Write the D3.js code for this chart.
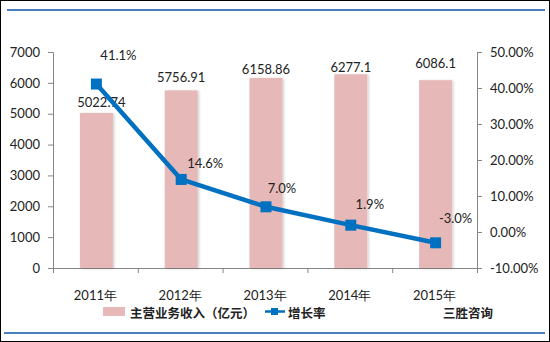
<!DOCTYPE html>
<html>
<head>
<meta charset="utf-8">
<script src="https://cdn.jsdelivr.net/npm/d3@7"></script>
<style>
  html, body { margin: 0; padding: 0; background: #fff; }
  svg { display: block; }
  text { font-family: Lato, "Noto Sans", sans-serif; fill: #222; }
  .cjk { font-family: "Noto Sans CJK SC", sans-serif; font-weight: 600; }
</style>
</head>
<body>
<svg id="chart" width="550" height="342"></svg>
<script>
// Revenue and growth data
const years = ["2011年", "2012年", "2013年", "2014年", "2015年"];
const revenue = [5022.74, 5756.91, 6158.86, 6277.1, 6086.1];
const revenueLabels = ["5022.74", "5756.91", "6158.86", "6277.1", "6086.1"];
const growth = [41.1, 14.6, 7.0, 1.9, -3.0];
const growthLabels = ["41.1%", "14.6%", "7.0%", "1.9%", "-3.0%"];
const leftTicks = [0, 1000, 2000, 3000, 4000, 5000, 6000, 7000];
const rightTicks = [-10, 0, 10, 20, 30, 40, 50];
const seriesNames = ["主营业务收入（亿元）", "增长率"];
const sourceText = "三胜咨询";

const svg = d3.select("#chart");
const W = 550, H = 342;
const plot = { left: 53, right: 477, top: 52, bottom: 268 };

// Frame and decorative rules
svg.append("rect").attr("x", 0.5).attr("y", 0.5).attr("width", W - 1).attr("height", H - 1)
  .attr("fill", "#fff").attr("stroke", "#000").attr("stroke-width", 1);
svg.append("line").attr("x1", 7).attr("x2", 545).attr("y1", 10).attr("y2", 10)
  .attr("stroke", "#4a7ebb").attr("stroke-width", 2);
svg.append("line").attr("x1", 4).attr("x2", 545).attr("y1", 333).attr("y2", 333)
  .attr("stroke", "#4a7ebb").attr("stroke-width", 2);

const defs = svg.append("defs");
const f = defs.append("filter").attr("id", "barShadow").attr("x", "-20%").attr("y", "-10%")
  .attr("width", "150%").attr("height", "120%");
f.append("feDropShadow").attr("dx", 1.5).attr("dy", 0.5).attr("stdDeviation", 1)
  .attr("flood-color", "#000").attr("flood-opacity", 0.18);

const x = d3.scaleBand().domain(years).range([plot.left, plot.right]).paddingInner(0).paddingOuter(0);
const yL = d3.scaleLinear().domain([0, 7000]).range([plot.bottom, plot.top]);
const yR = d3.scaleLinear().domain([-10, 50]).range([plot.bottom, plot.top]);

const axisColor = "#868686";

// Left axis
const gL = svg.append("g").attr("transform", `translate(${plot.left},0)`)
  .call(d3.axisLeft(yL).tickValues(leftTicks).tickSize(5).tickPadding(8).tickFormat(d3.format("d")));
// Right axis
const gR = svg.append("g").attr("transform", `translate(${plot.right},0)`)
  .call(d3.axisRight(yR).tickValues(rightTicks).tickSize(5).tickPadding(8)
    .tickFormat(d => d.toFixed(2) + "%"));
// Bottom axis with ticks at band boundaries
const boundaries = d3.range(years.length + 1).map(i => plot.left + i * x.step());
const gB = svg.append("g");
gB.append("line").attr("x1", plot.left).attr("x2", plot.right)
  .attr("y1", plot.bottom + 0.5).attr("y2", plot.bottom + 0.5).attr("stroke", axisColor);
gB.selectAll("line.tick").data(boundaries).join("line").attr("class", "tick")
  .attr("x1", d => d + 0.5).attr("x2", d => d + 0.5)
  .attr("y1", plot.bottom).attr("y2", plot.bottom + 5).attr("stroke", axisColor);
gB.selectAll("text").data(years).join("text")
  .attr("x", d => x(d) + x.bandwidth() / 2).attr("y", 300)
  .attr("text-anchor", "middle").style("font-size", "13px")
  .text(d => d);

[gL, gR].forEach(g => {
  g.select(".domain").attr("stroke", axisColor);
  g.selectAll(".tick line").attr("stroke", axisColor);
  g.selectAll(".tick text").style("font-size", "13px").style("font-family", "Lato, sans-serif").attr("fill", "#222");
});

// Bars
const barW = 33;
svg.append("g").selectAll("rect").data(revenue).join("rect")
  .attr("x", (d, i) => x(years[i]) + x.bandwidth() / 2 - barW / 2 + 1)
  .attr("y", d => yL(d))
  .attr("width", barW)
  .attr("height", d => yL(0) - yL(d))
  .attr("fill", "#e6b9b8")
  .attr("filter", "url(#barShadow)");

// Bar value labels (individually nudged to avoid the line)
const barNudge = [[5, -6], [0, -8], [0, -4], [0, -2], [0, -12]];
svg.append("g").selectAll("text").data(revenue).join("text")
  .attr("x", (d, i) => x(years[i]) + x.bandwidth() / 2 + 1 + barNudge[i][0])
  .attr("y", (d, i) => yL(d) + barNudge[i][1])
  .attr("text-anchor", "middle").style("font-size", "13px")
  .text((d, i) => revenueLabels[i]);

// Growth line
const cx = i => x(years[i]) + x.bandwidth() / 2 + 1;
const line = d3.line().x((d, i) => cx(i)).y(d => yR(d));
svg.append("path").datum(growth).attr("d", line)
  .attr("fill", "none").attr("stroke", "#0070c0").attr("stroke-width", 4.5)
  .attr("stroke-linejoin", "round");
const mk = 11;
svg.append("g").selectAll("rect").data(growth).join("rect")
  .attr("x", (d, i) => cx(i) - mk / 2).attr("y", d => yR(d) - mk / 2)
  .attr("width", mk).attr("height", mk).attr("fill", "#0070c0");

const lineNudge = [[22, -24], [24, -11], [16, -14], [19, -16], [20, -20]];
svg.append("g").selectAll("text").data(growth).join("text")
  .attr("x", (d, i) => cx(i) + lineNudge[i][0])
  .attr("y", (d, i) => yR(d) + lineNudge[i][1])
  .attr("text-anchor", "middle").style("font-size", "13px")
  .text((d, i) => growthLabels[i]);

// Legend
const lg = svg.append("g");
lg.append("rect").attr("x", 103).attr("y", 307).attr("width", 22).attr("height", 9).attr("fill", "#e6b9b8");
lg.append("text").attr("class", "cjk").attr("x", 130).attr("y", 318)
  .style("font-size", "12.5px").text(seriesNames[0]);
lg.append("line").attr("x1", 265).attr("x2", 285).attr("y1", 311.5).attr("y2", 311.5)
  .attr("stroke", "#0070c0").attr("stroke-width", 2.5);
lg.append("rect").attr("x", 271).attr("y", 308).attr("width", 7).attr("height", 7).attr("fill", "#0070c0");
lg.append("text").attr("class", "cjk").attr("x", 288).attr("y", 318)
  .style("font-size", "12.5px").text(seriesNames[1]);
svg.append("text").attr("class", "cjk").attr("x", 443).attr("y", 318)
  .style("font-size", "12.5px").text(sourceText);
</script>
</body>
</html>
